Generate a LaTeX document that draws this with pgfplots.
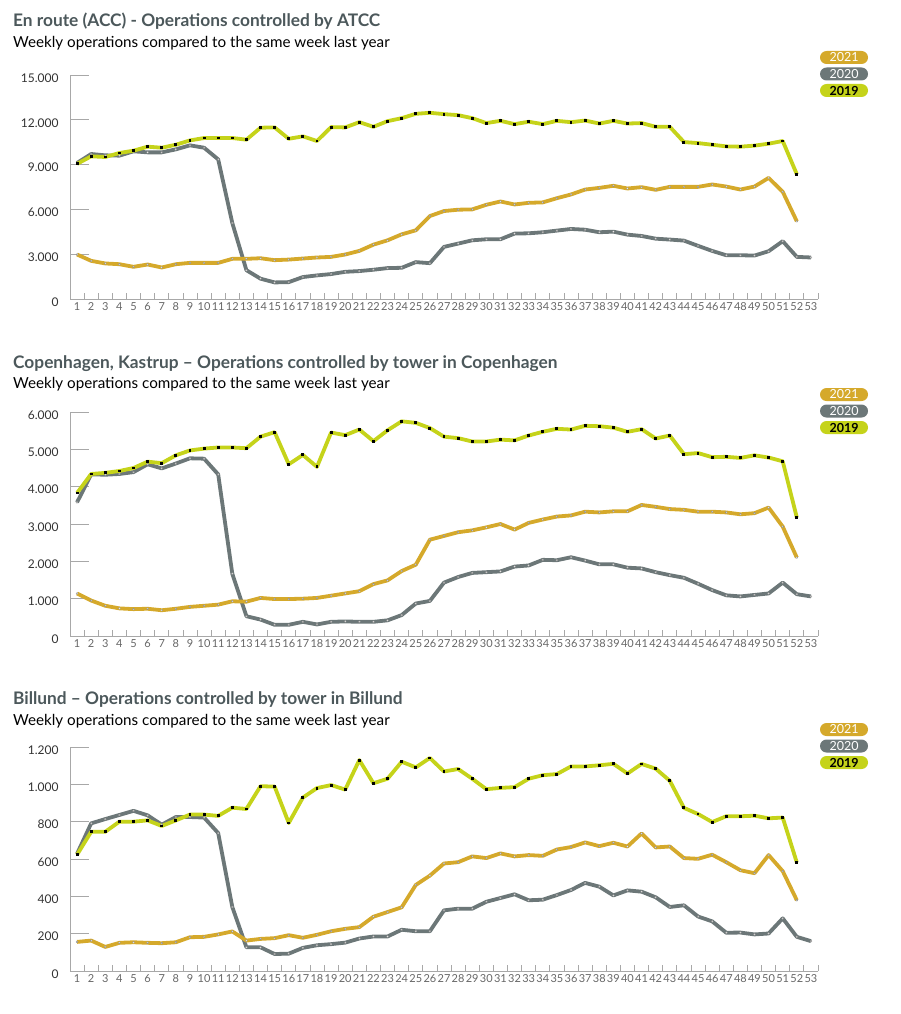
\documentclass[border=0pt]{standalone}
\usepackage{pgfplots}
\pgfplotsset{compat=1.18}
\usepackage{pgfplotstable}
\usepackage{fontspec}
\setmainfont{Lato}
\definecolor{c19}{HTML}{C5D31A}
\definecolor{c20}{HTML}{6C7778}
\definecolor{c21}{HTML}{D5A92B}
\definecolor{ttl}{HTML}{4C585B}
\definecolor{axg}{HTML}{A8A8A8}
\definecolor{lbl}{HTML}{666666}
\definecolor{ylbl}{HTML}{333333}

\pgfplotstableread{
w y19 y20 y21
1 9050 9110 2980
2 9555 9710 2555
3 9510 9620 2380
4 9777 9600 2330
5 9932 9890 2155
6 10200 9820 2310
7 10130 9820 2110
8 10330 10020 2330
9 10620 10290 2420
10 10780 10130 2420
11 10780 9350 2420
12 10780 5090 2690
13 10670 1930 2690
14 11470 1360 2730
15 11490 1110 2600
16 10730 1130 2640
17 10890 1470 2710
18 10580 1580 2780
19 11510 1670 2820
20 11490 1820 2980
21 11840 1870 3220
22 11530 1960 3640
23 11910 2070 3930
24 12110 2090 4330
25 12400 2470 4600
26 12470 2400 5555
27 12380 3490 5890
28 12310 3710 5980
29 12110 3930 6000
30 11780 4000 6310
31 11930 4000 6530
32 11710 4380 6330
33 11870 4400 6440
34 11710 4470 6470
35 11930 4580 6750
36 11840 4690 7000
37 11950 4640 7330
38 11750 4470 7440
39 11930 4510 7580
40 11750 4310 7400
41 11780 4220 7490
42 11530 4040 7310
43 11530 3980 7510
44 10510 3910 7510
45 10440 3560 7510
46 10330 3220 7670
47 10220 2930 7530
48 10200 2930 7330
49 10270 2910 7530
50 10400 3200 8110
51 10580 3870 7180
52 8350 2820 5200
53 nan 2780 nan
}\acc

\pgfplotstableread{
w y19 y20 y21
1 3830 3580 1140
2 4340 4330 950
3 4370 4320 810
4 4420 4340 740
5 4500 4390 720
6 4670 4600 730
7 4630 4490 690
8 4840 4620 730
9 4970 4760 780
10 5020 4750 810
11 5050 4330 840
12 5050 1670 930
13 5030 530 920
14 5340 440 1020
15 5460 300 990
16 4600 300 990
17 4850 380 1000
18 4530 310 1020
19 5450 380 1080
20 5380 390 1140
21 5530 380 1200
22 5220 380 1390
23 5510 420 1490
24 5750 560 1740
25 5710 870 1910
26 5570 940 2580
27 5340 1430 2680
28 5300 1580 2780
29 5210 1690 2830
30 5210 1710 2910
31 5260 1730 3000
32 5240 1860 2850
33 5370 1890 3030
34 5470 2040 3120
35 5550 2030 3200
36 5530 2110 3230
37 5630 2020 3330
38 5620 1920 3310
39 5580 1920 3340
40 5470 1830 3340
41 5540 1810 3510
42 5290 1710 3460
43 5370 1630 3400
44 4870 1560 3380
45 4900 1400 3330
46 4790 1230 3330
47 4800 1090 3310
48 4770 1060 3260
49 4840 1100 3290
50 4780 1140 3440
51 4680 1430 2930
52 3170 1120 2100
53 nan 1060 nan
}\cph

\pgfplotstableread{
w y19 y20 y21
1 623 628 156
2 746 791 163
3 746 814 129
4 800 836 151
5 800 858 154
6 807 834 151
7 777 784 149
8 807 825 154
9 838 825 181
10 838 822 183
11 831 739 196
12 875 343 212
13 868 127 163
14 990 127 172
15 988 91 176
16 793 93 192
17 929 124 178
18 980 138 194
19 996 144 213
20 972 152 226
21 1130 174 235
22 1006 185 291
23 1030 185 316
24 1121 221 341
25 1091 213 461
26 1141 213 511
27 1069 325 576
28 1082 334 583
29 1030 334 614
30 974 371 605
31 981 391 630
32 985 411 614
33 1030 379 621
34 1049 382 617
35 1055 407 651
36 1096 434 664
37 1096 472 689
38 1102 452 669
39 1110 405 687
40 1058 432 667
41 1109 425 737
42 1084 395 662
43 1019 343 667
44 874 352 605
45 841 292 601
46 798 266 623
47 829 205 583
48 829 206 540
49 832 196 524
50 818 201 621
51 822 282 535
52 581 183 379
53 nan 160 nan
}\bll

\pgfplotsset{
  wk/.style={
    scale only axis, width=748pt, height=224pt,
    xmin=0.5, xmax=53.5, ymin=0,
    clip=false, scaled y ticks=false,
    axis x line*=bottom, axis y line*=left,
    axis line style={axg, line width=0.8pt},
    tick align=inside,
    major tick length=19pt, minor tick length=6pt,
    every tick/.style={axg, line width=0.8pt},
    xtick={1,...,53}, minor xtick={1.5,2.5,...,53.5},
    major x tick style={draw=none},
    ytick pos=left,
    /pgf/number format/assume math mode=true,
    xticklabel style={font=\fontsize{11}{11}\selectfont, text=lbl, inner sep=1pt, yshift=-2.5pt},
    yticklabel style={font=\fontsize{12}{12}\selectfont, text=ylbl, xshift=-8pt, yshift=-3pt},
  },
  s19/.style={c19, line width=3.8pt, line join=round, mark=square*, mark size=0.95pt, mark options={black, line width=0pt}},
  s20/.style={c20, line width=3.8pt, line join=round, mark=*, mark size=1pt, mark options={fill=white, draw=gray, line width=0.3pt}},
  s21/.style={c21, line width=3.8pt, line join=round, mark=*, mark size=1pt, mark options={fill=white, draw=gray, line width=0.3pt}},
}
\tikzset{
  pill/.style={rounded corners=6.5pt, minimum width=48pt, minimum height=13pt, inner sep=0pt, font=\fontsize{12.5}{12.5}\selectfont},
  ttlnode/.style={anchor=base west, inner sep=0pt, text=ttl, font=\fontsize{17.3}{19}\selectfont\bfseries},
  subnode/.style={anchor=base west, inner sep=0pt, font=\fontsize{15.2}{17}\selectfont},
}

\newcommand{\legendpills}{%
  \node[pill, fill=c21, text=white] at (rel axis cs:1,1) [xshift=26pt, yshift=17.5pt] {2021};
  \node[pill, fill=c20, text=white] at (rel axis cs:1,1) [xshift=26pt, yshift=1pt] {2020};
  \node[pill, fill=c19, text=black, font=\fontsize{12.5}{12.5}\selectfont\bfseries] at (rel axis cs:1,1) [xshift=26pt, yshift=-15.5pt] {2019};
}

\begin{document}
\begin{tikzpicture}
\path[use as bounding box] (0pt,0pt) rectangle (901pt,-1014pt);

% Chart 1
\node[ttlnode] at (13pt,-27pt) {En route (ACC) - Operations controlled by ATCC};
\node[subnode] at (13pt,-48pt) {Weekly operations compared to the same week last year};
\begin{axis}[wk, at={(70pt,-299pt)}, anchor=south west, ymax=15000,
  ytick={0,3000,6000,9000,12000,15000},
  yticklabels={0,3.000,6.000,9.000,12.000,15.000}]
\addplot[s20] table[x=w, y=y20] {\acc};
\addplot[s21] table[x=w, y=y21] {\acc};
\addplot[s19] table[x=w, y=y19] {\acc};
\legendpills
\end{axis}

% Chart 2
\node[ttlnode] at (13pt,-368pt) {Copenhagen, Kastrup – Operations controlled by tower in Copenhagen};
\node[subnode] at (13pt,-388pt) {Weekly operations compared to the same week last year};
\begin{axis}[wk, at={(70pt,-636pt)}, anchor=south west, ymax=6000,
  ytick={0,1000,2000,3000,4000,5000,6000},
  yticklabels={0,1.000,2.000,3.000,4.000,5.000,6.000}]
\addplot[s20] table[x=w, y=y20] {\cph};
\addplot[s21] table[x=w, y=y21] {\cph};
\addplot[s19] table[x=w, y=y19] {\cph};
\legendpills
\end{axis}

% Chart 3
\node[ttlnode] at (13pt,-704pt) {Billund – Operations controlled by tower in Billund};
\node[subnode] at (13pt,-725pt) {Weekly operations compared to the same week last year};
\begin{axis}[wk, at={(70pt,-971pt)}, anchor=south west, ymax=1200,
  ytick={0,200,400,600,800,1000,1200},
  yticklabels={0,200,400,600,800,1.000,1.200}]
\addplot[s20] table[x=w, y=y20] {\bll};
\addplot[s21] table[x=w, y=y21] {\bll};
\addplot[s19] table[x=w, y=y19] {\bll};
\legendpills
\end{axis}
\end{tikzpicture}
\end{document}
